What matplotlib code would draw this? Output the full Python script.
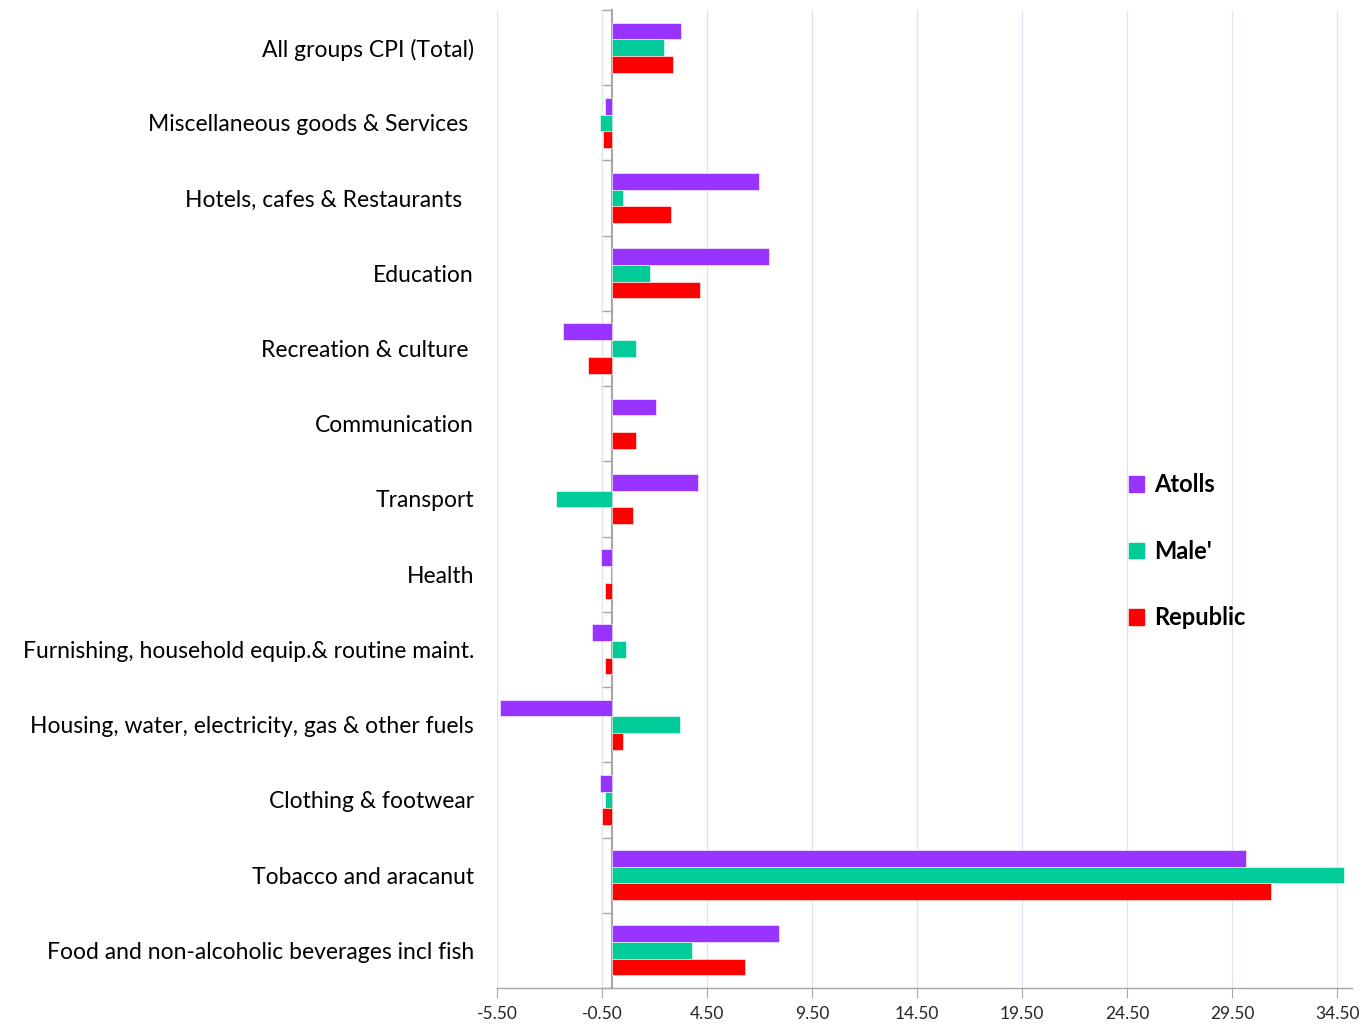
import matplotlib
matplotlib.use("Agg")
import matplotlib.pyplot as plt
import matplotlib.patches as mpatches
import numpy as np

plt.rcParams["font.family"] = ["Lato", "DejaVu Sans"]

# categories listed bottom -> top
categories = [
    "Food and non-alcoholic beverages incl fish",
    "Tobacco and aracanut",
    "Clothing & footwear",
    "Housing, water, electricity, gas & other fuels",
    "Furnishing, household equip.& routine maint.",
    "Health",
    "Transport",
    "Communication",
    "Recreation & culture ",
    "Education",
    "Hotels, cafes & Restaurants  ",
    "Miscellaneous goods & Services ",
    "All groups CPI (Total)",
]
atolls   = [7.93, 30.14, -0.60, -5.34, -0.96, -0.53, 4.07, 2.07, -2.36, 7.45, 6.98, -0.36, 3.26]
male     = [3.79, 34.82, -0.36, 3.21, 0.64, 0.00, -2.67, 0.00, 1.12, 1.79, 0.50, -0.60, 2.45]
republic = [6.30, 31.34, -0.50, 0.50, -0.36, -0.36, 0.98, 1.12, -1.17, 4.17, 2.79, -0.45, 2.88]
series_names  = ["Atolls", "Male'", "Republic"]
series_colors = ["#9933FF", "#00CC99", "#FF0000"]
x_ticks = [-5.5, -0.5, 4.5, 9.5, 14.5, 19.5, 24.5, 29.5, 34.5]
x_min, x_max = -5.5, 35.2

fig = plt.figure(figsize=(13.69, 10.24), dpi=100)
ax = fig.add_axes([0.363, 0.0352, 0.6245, 0.955])

y = np.arange(len(categories))
h = 0.222
for vals, off, clr in [(atolls, h, series_colors[0]),
                       (male, 0, series_colors[1]),
                       (republic, -h, series_colors[2])]:
    ax.barh(y + off, vals, height=h, color=clr, edgecolor="white", linewidth=0.4, zorder=3)

ax.set_xlim(x_min, x_max)
ax.set_ylim(-0.5, len(categories) - 0.5)
ax.set_xticks(x_ticks)
ax.set_xticklabels([f"{t:.2f}" for t in x_ticks], fontsize=12.5, color="#262626")
ax.tick_params(axis="x", length=7, color="#A6A6A6", pad=6)
ax.grid(axis="x", color="#DCE6F2", lw=1.0, zorder=0)

ax.set_yticks(y)
ax.set_yticklabels(categories, fontsize=16.5, color="black")
ax.tick_params(axis="y", length=0, pad=16.5)

for s in ["top", "right", "left"]:
    ax.spines[s].set_visible(False)
ax.spines["bottom"].set_color("#A6A6A6")
ax.spines["bottom"].set_linewidth(1.0)

# category axis crossing at zero, with boundary tick marks
sec = ax.secondary_yaxis((0 - x_min) / (x_max - x_min))
sec.set_yticks(np.arange(len(categories) + 1) - 0.5)
sec.set_yticklabels([])
sec.tick_params(axis="y", length=8, color="#A6A6A6", width=1.0)
sec.spines["left"].set_color("#A6A6A6")
sec.spines["left"].set_linewidth(1.5)
sec.spines["left"].set_zorder(4)

handles = [mpatches.Patch(color=c, label=n) for n, c in zip(series_names, series_colors)]
leg = ax.legend(handles=handles, loc="upper left", bbox_to_anchor=(0.7146, 0.548),
                frameon=False, handlelength=0.65, handleheight=0.65, handletextpad=0.4,
                labelspacing=1.84, prop={"size": 17, "weight": "bold"})

fig.savefig("out.png", dpi=100)
